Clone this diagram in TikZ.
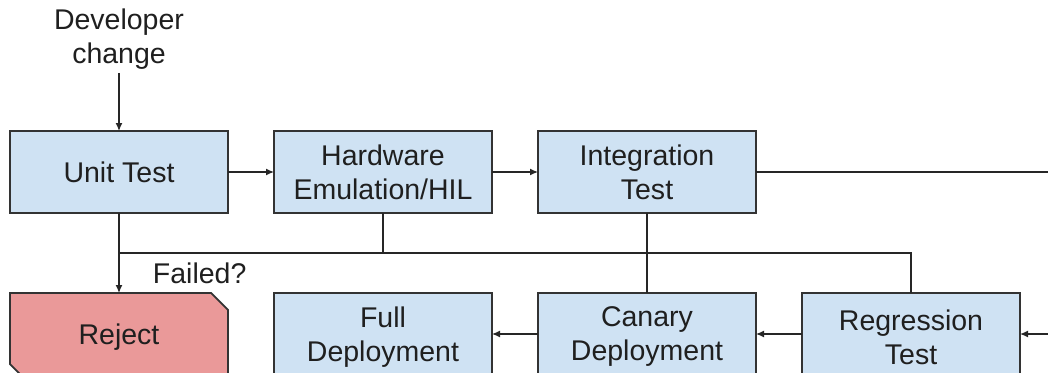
\documentclass[tikz,border=0pt]{standalone}
\usepackage{fontspec}
\setmainfont{Liberation Sans}
\usetikzlibrary{positioning,shapes.misc,arrows.meta}
\definecolor{boxblue}{HTML}{CFE2F3}
\definecolor{boxred}{HTML}{EA9999}
\definecolor{edgegray}{HTML}{333333}
\begin{document}
\begin{tikzpicture}[
        x=1pt, y=-1pt,
        font=\fontsize{28.5}{34}\selectfont,
        stage/.style={draw=edgegray, fill=boxblue, line width=1.8pt, minimum width=218pt, minimum height=82pt, align=center, inner sep=0pt, outer sep=0pt, text=black!88},
        low/.style={minimum height=88pt},
        reject/.style={stage, low, fill=boxred, chamfered rectangle, chamfered rectangle corners={north east, south west}, chamfered rectangle xsep=16pt},
        flow/.style={draw=black!85, line width=1.3pt, -{Latex[length=8pt,width=7pt]}},
        link/.style={draw=black!85, line width=1.3pt},
    ]
    \useasboundingbox (0,0) rectangle (1048,372);
    \node[stage](unit) at (119,172){Unit Test};
    \node[stage, right=46pt of unit](hil){Hardware\\Emulation/HIL};
    \node[stage, right=46pt of hil](integ){Integration\\Test};
    \node[reject](rej) at (119,337){Reject};
    \node[stage, low](full) at (383,337){Full\\Deployment};
    \node[stage, low, right=46pt of full](canary){Canary\\Deployment};
    \node[stage, low, right=46pt of canary](regress){Regression\\Test};
    \node[align=center, text=black!88](dev) at (119,39){Developer\\change};
    \coordinate (fb) at (0,253);
    \coordinate (lane) at (0,334);
    \coordinate (edge) at (1048,0);

    \draw[flow] (dev.south) -- (unit.north);
    \draw[flow] (unit) -- (hil);
    \draw[flow] (hil) -- (integ);
    \draw[link] (integ.east) -- (integ.east -| edge);
    \draw[flow] (unit.south) -- node[pos=0.75, right=30pt, text=black!88]{Failed?} (rej.north);
    \draw[link] (unit.south |- fb) -- (regress.north |- fb) -- (regress.north);
    \draw[link] (hil.south) -- (hil.south |- fb);
    \draw[link] (integ.south) -- (canary.north);
    \draw[flow] (edge |- lane) -- (regress.east |- lane);
    \draw[flow] (regress.west |- lane) -- (canary.east |- lane);
    \draw[flow] (canary.west |- lane) -- (full.east |- lane);
\end{tikzpicture}
\end{document}
